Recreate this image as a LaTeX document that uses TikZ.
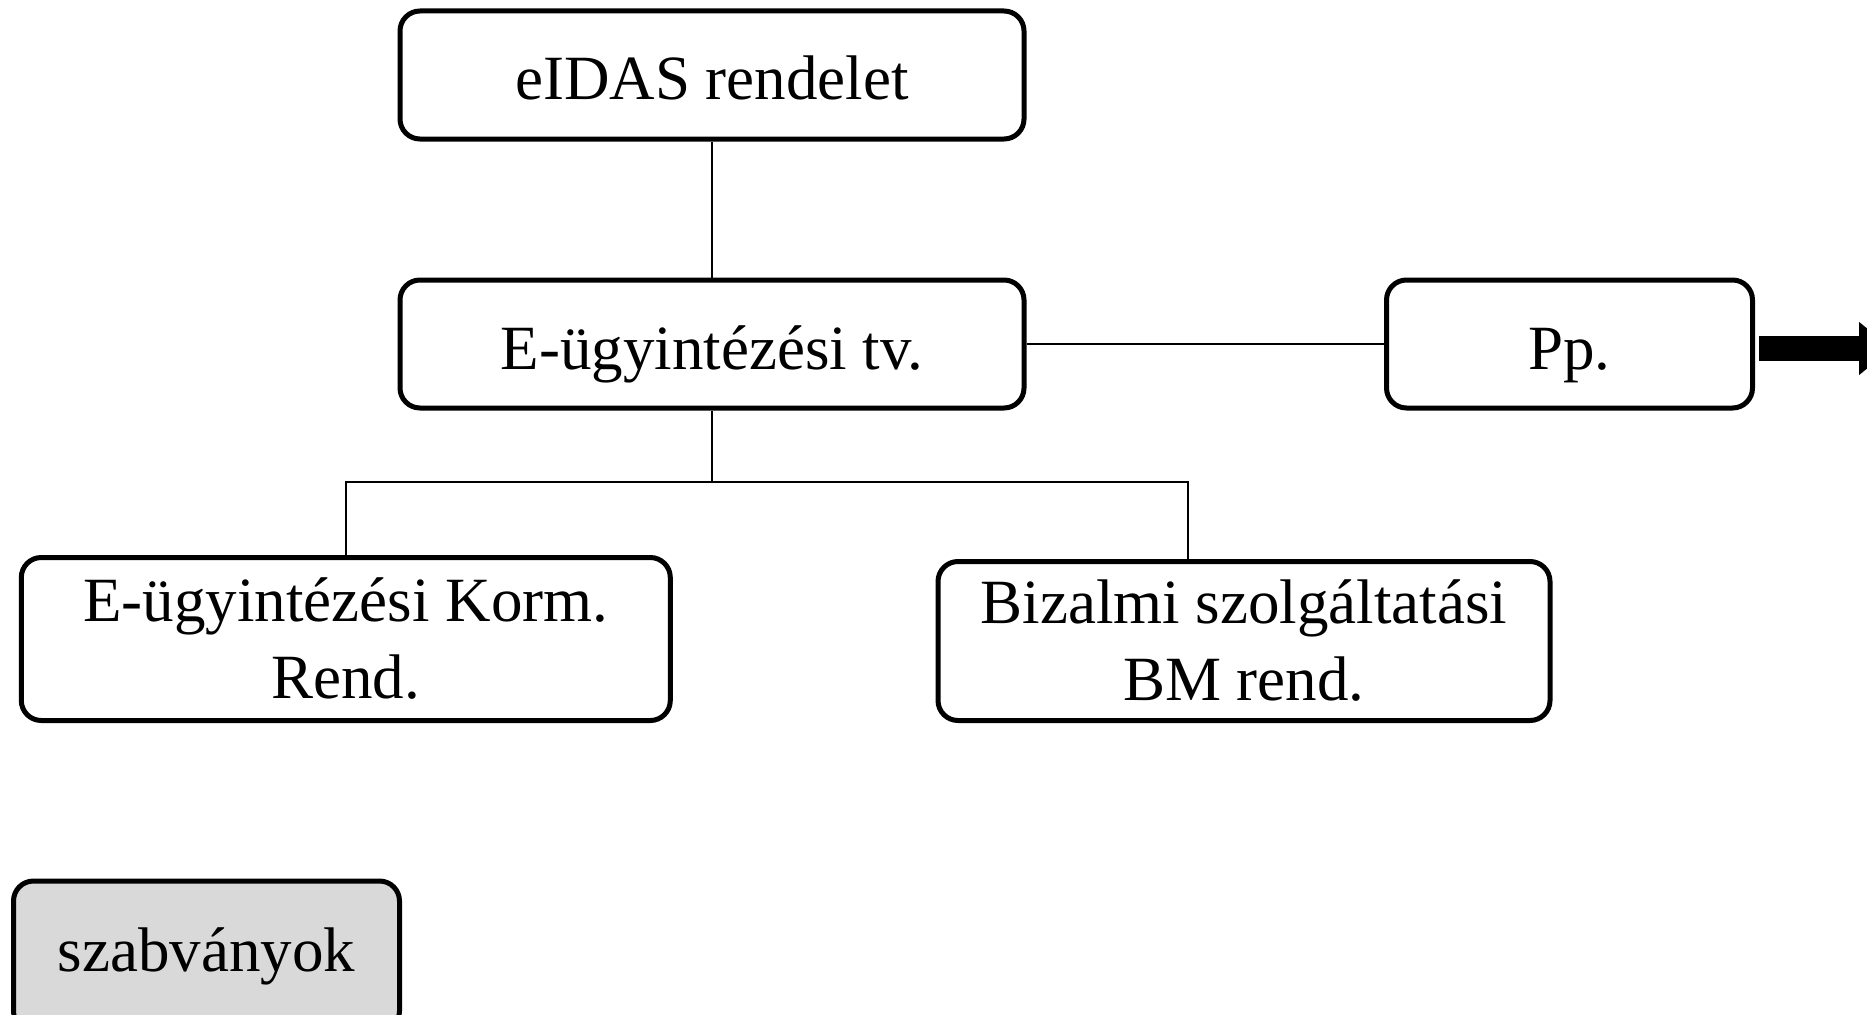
\documentclass[tikz,border=0pt]{standalone}
\usepackage{fontspec}
\setmainfont{Liberation Serif}
\usetikzlibrary{arrows.meta}
\begin{document}
\begin{tikzpicture}[x=1pt,y=-1pt,
  box/.style={draw=black, line width=5pt, rounded corners=20pt, fill=white,
    font=\fontsize{63}{77}\selectfont, inner sep=0pt, align=center},
  oneline/.style={text height=50pt, text depth=0pt},
  conn/.style={draw=black, line width=2.2pt}]
\useasboundingbox (0,0) rectangle (1867,1014);
\node[box, oneline, minimum width=624pt, minimum height=128pt] (eidas) at (712,75) {eIDAS rendelet};
\node[box, oneline, minimum width=624pt, minimum height=128pt] (tv) at (712,344) {E-ügyintézési tv.};
\node[box, oneline, minimum width=366pt, minimum height=128pt] (pp) at (1569.5,344) {Pp.};
\node[box, minimum width=649pt, minimum height=163pt] (korm) at (345.8,639) {E-ügyintézési Korm.\\Rend.};
\node[box, minimum width=612pt, minimum height=159pt] (biz) at (1244,641) {Bizalmi szolgáltatási\\BM rend.};
\node[box, fill={rgb,255:red,217;green,217;blue,217}, text height=50pt, text depth=20pt, minimum width=386pt, minimum height=150pt] (szab) at (206.5,956) {szabványok};
\coordinate (j) at (712,482);
\coordinate (bzx) at (1188,0);
\coordinate (arrowend) at (1892,348.5);
\draw[conn] (eidas.south) -- (tv.north);
\draw[conn] (tv.east) -- (pp.west);
\draw[conn, line width=2.8pt] (tv.south) -- (j);
\draw[conn] (korm.north) |- (j) -| (bzx |- biz.north);
\draw[line width=25pt, -{Triangle[length=33pt, width=51pt]}] ([xshift=4pt]pp.east |- arrowend) -- (arrowend);
\end{tikzpicture}
\end{document}
